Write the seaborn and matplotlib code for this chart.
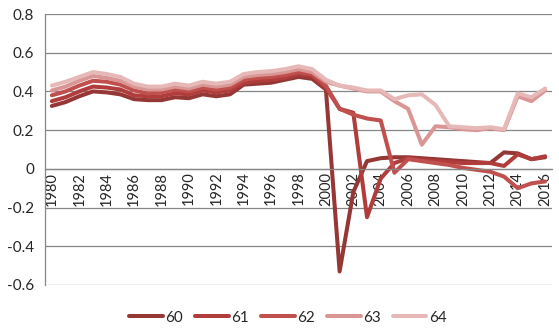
import matplotlib
matplotlib.use("Agg")
import matplotlib.pyplot as plt
import seaborn as sns
import pandas as pd
import numpy as np
from matplotlib.ticker import FixedLocator, FuncFormatter

years = list(range(1980, 2017))
s60 = [0.325,0.345,0.375,0.40,0.395,0.385,0.36,0.355,0.355,0.37,0.365,0.385,0.375,0.385,0.435,0.44,0.445,0.46,0.475,0.465,0.41,
       -0.53,-0.12,0.04,0.055,0.06,0.06,0.055,0.05,0.045,0.04,0.035,0.03,0.085,0.08,0.05,0.06]
s61 = [0.35,0.37,0.40,0.425,0.42,0.41,0.38,0.375,0.375,0.39,0.385,0.405,0.395,0.405,0.445,0.455,0.46,0.47,0.49,0.48,0.42,
       0.31,0.29,-0.25,-0.05,0.03,0.055,0.045,0.04,0.035,0.03,0.03,0.03,0.015,0.075,0.05,0.065]
s62 = [0.38,0.40,0.43,0.455,0.45,0.435,0.405,0.39,0.395,0.41,0.40,0.42,0.41,0.42,0.46,0.47,0.475,0.485,0.50,0.49,0.43,
       0.31,0.28,0.26,0.25,-0.02,0.05,0.04,0.03,0.02,0.005,-0.005,-0.015,-0.04,-0.10,-0.075,-0.065]
s63 = [0.405,0.425,0.455,0.48,0.47,0.455,0.425,0.41,0.41,0.425,0.415,0.435,0.425,0.435,0.475,0.485,0.49,0.50,0.515,0.50,0.45,
       0.43,0.415,0.40,0.40,0.35,0.31,0.125,0.22,0.215,0.205,0.20,0.21,0.20,0.375,0.35,0.405]
s64 = [0.43,0.45,0.475,0.50,0.49,0.475,0.44,0.425,0.425,0.44,0.43,0.45,0.44,0.45,0.49,0.50,0.505,0.515,0.53,0.515,0.46,
       0.43,0.42,0.405,0.405,0.36,0.38,0.385,0.33,0.22,0.215,0.21,0.215,0.205,0.39,0.37,0.415]
series_names = ["60", "61", "62", "63", "64"]
colors = ["#953735", "#B03C3C", "#C0504D", "#D99694", "#E6B9B8"]
yticks = [-0.6, -0.4, -0.2, 0, 0.2, 0.4, 0.6, 0.8]
xlabel_years = list(range(1980, 2017, 2))

rows = []
for name, vals in zip(series_names, [s60, s61, s62, s63, s64]):
    for y, v in zip(years, vals):
        rows.append({"year": y, "value": v, "series": name})
df = pd.DataFrame(rows)

sns.set_style("white")
plt.rcParams['font.family'] = ['Lato', 'DejaVu Sans']

fig = plt.figure(figsize=(5.59, 3.31), dpi=100)
ax = fig.add_axes([45/559, 1-285/331, (552-45)/559, (285-14)/331])

for yv in yticks:
    ax.axhline(yv, color="#868686", lw=0.9, zorder=0)

sns.lineplot(data=df, x="year", y="value", hue="series", palette=colors,
             linewidth=2.9, ax=ax, legend=True, sort=False)
for ln in ax.get_lines():
    ln.set_solid_joinstyle("round")
    ln.set_solid_capstyle("round")

ax.set_xlim(1979.5, 2016.5)
ax.set_ylim(-0.6, 0.8)
ax.set_xlabel("")
ax.set_ylabel("")

for s in ["top", "right"]:
    ax.spines[s].set_visible(False)
ax.spines["bottom"].set_position(("data", 0))
ax.spines["bottom"].set_color("#868686")
ax.spines["left"].set_color("#868686")
ax.spines["bottom"].set_linewidth(0.9)
ax.spines["left"].set_linewidth(0.9)

ax.set_yticks(yticks)
ax.yaxis.set_major_formatter(FuncFormatter(lambda v, p: "0" if abs(v) < 1e-9 else f"{v:.1f}"))
ax.tick_params(axis="y", direction="out", length=5, color="#868686", labelsize=11, pad=3)

ax.xaxis.set_major_locator(FixedLocator(xlabel_years))
ax.xaxis.set_minor_locator(FixedLocator([y - 0.5 for y in years] + [2016.5]))
ax.set_xticklabels([str(y) for y in xlabel_years], rotation=90)
ax.tick_params(axis="x", which="major", length=0, labelsize=10.5, pad=2)
ax.tick_params(axis="x", which="minor", direction="out", length=5, color="#868686")

handles, labels = ax.get_legend_handles_labels()
ax.legend_.remove()
fig.legend(handles, labels, loc="center", bbox_to_anchor=(0.515, 0.04), ncol=5,
           frameon=False, fontsize=11, handlelength=2.2, handletextpad=0.15,
           columnspacing=0.8)

fig.savefig("out.png", dpi=100)
